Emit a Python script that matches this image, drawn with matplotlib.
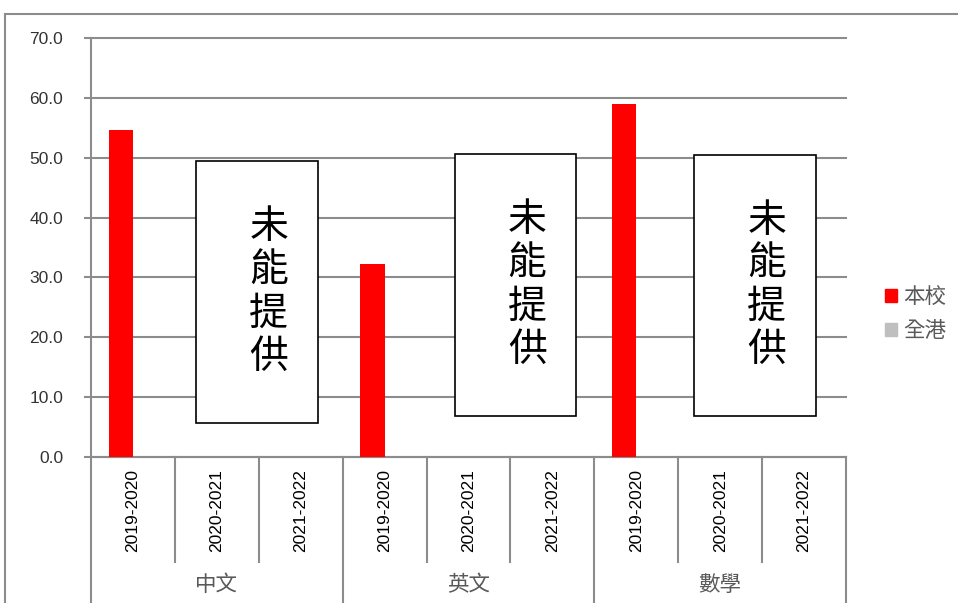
import numpy as np
import matplotlib
matplotlib.use('Agg')
import matplotlib.pyplot as plt
from matplotlib.patches import Rectangle, Patch
from matplotlib.lines import Line2D

plt.rcParams['font.family'] = ['Liberation Sans', 'Noto Sans CJK TC', 'DejaVu Sans']

subjects = ['中文', '英文', '數學']
years = ['2019-2020', '2020-2021', '2021-2022']
school = [54.6, np.nan, np.nan, 32.2, np.nan, np.nan, 58.9, np.nan, np.nan]
hk = [np.nan] * 9
series_names = ['本校', '全港']
na_text = '未能提供'

grid_c = '#8c8c8c'
text_c = '#595959'

fig = plt.figure(figsize=(9.58, 6.03), dpi=100)
ax = fig.add_axes([91 / 958, 146 / 603, 755 / 958, 419 / 603])

x = np.arange(len(school))
w = 0.29
ax.bar(x - w / 2, school, w, color='#ff0000', zorder=3)
ax.bar(x + w / 2, hk, w, color='#bfbfbf', zorder=3)

ax.set_xlim(-0.5, len(school) - 0.5)
ax.set_ylim(0, 70)
ax.set_yticks(np.arange(0, 71, 10))
ax.set_yticklabels([f'{v:.1f}' for v in np.arange(0, 71, 10)], fontsize=12.5, color='#333333')
ax.yaxis.grid(True, color=grid_c, linewidth=1.5, zorder=0)
for gl in ax.get_ygridlines():
    gl.set_clip_on(False)
ax.tick_params(axis='y', length=5, width=1.5, color=grid_c, pad=15)

ax.set_xticks(x)
ax.set_xticklabels(years * len(subjects), rotation=90, fontsize=12.5, va='top')
ax.tick_params(axis='x', length=0, pad=9)

for side in ['top', 'right']:
    ax.spines[side].set_visible(False)
for side in ['left', 'bottom']:
    ax.spines[side].set_color(grid_c)
    ax.spines[side].set_linewidth(1.5)

# separators below the axis
trans = ax.get_xaxis_transform()
for i in range(len(school) + 1):
    xb = i - 0.5
    y_end = -0.35 if i % 3 == 0 else -0.2506
    ax.add_line(Line2D([xb, xb], [0, y_end], transform=trans, color=grid_c,
                       linewidth=1.5, clip_on=False))

for j, s in enumerate(subjects):
    ax.text(3 * j + 1, -0.305, s, transform=trans, ha='center', va='center',
            fontsize=15.5, color=text_c, family=['Noto Sans CJK TC'])

# "not available" boxes
boxes = [(0.751, 2.206, 5.7, 49.4), (3.838, 5.281, 6.85, 50.6), (6.687, 8.141, 6.85, 50.45)]
for x0, x1, y0, y1 in boxes:
    ax.add_patch(Rectangle((x0, y0), x1 - x0, y1 - y0, facecolor='white',
                           edgecolor='black', linewidth=1.2, zorder=5))
    ax.text((x0 + x1) / 2 + 0.14, (y0 + y1) / 2, '\n'.join(na_text), ha='center', va='center',
            fontsize=28, linespacing=1.1, zorder=6, family=['Noto Sans CJK TC'])

handles = [Patch(color='#ff0000'), Patch(color='#bfbfbf')]
leg = fig.legend(handles, series_names, loc='center left', bbox_to_anchor=(866 / 958, 1 - 314 / 603),
                 frameon=False, handlelength=0.55, handleheight=0.55, handletextpad=0.3,
                 labelspacing=0.55, prop={'family': 'Noto Sans CJK TC', 'size': 15.5})
for t in leg.get_texts():
    t.set_color(text_c)

# outer chart border
fig.add_artist(Line2D([5 / 958, 1], [1 - 14 / 603, 1 - 14 / 603], color=grid_c, linewidth=1.5))
fig.add_artist(Line2D([5 / 958, 5 / 958], [0, 1 - 14 / 603], color=grid_c, linewidth=1.5))

fig.savefig('out.png', dpi=100)
